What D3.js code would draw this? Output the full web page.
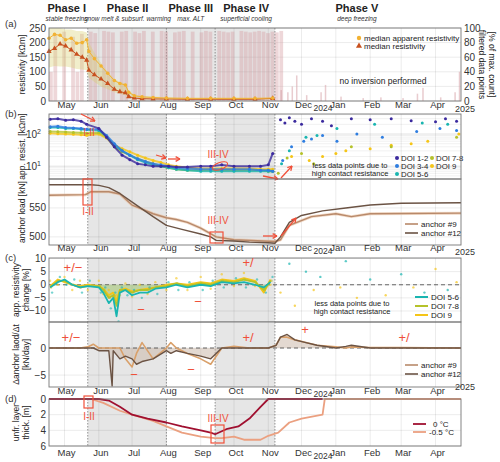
<!DOCTYPE html><html><head><meta charset="utf-8"><script src="https://cdn.jsdelivr.net/npm/d3@7"></script>
<style>body{margin:0;background:#fff}text{font-family:Arial,"Liberation Sans",sans-serif}</style></head><body><svg id="c" width="500" height="462"></svg><script>
// ---------- data ----------
const monthTicks=["2024-05-01","2024-06-01","2024-07-01","2024-08-01","2024-09-01","2024-10-01","2024-11-01","2024-12-01","2025-01-01","2025-02-01","2025-03-01","2025-04-01"];
const monthLabels=["May","Jun","Jul","Aug","Sep","Oct","Nov","Dec","Jan","Feb","Mar","Apr"];
const phaseBounds=["2024-05-22","2024-08-01","2024-09-14","2024-11-07"];
const phases=[["Phase I","stable freezing","2024-05-03"],["Phase II","snow melt & subsurf. warming","2024-06-27"],["Phase III","max. ALT","2024-08-23"],["Phase IV","superficial cooling","2024-10-12"],["Phase V","deep freezing","2025-01-20"]];
// panel a
const medAppDates=["2024-04-17","2024-04-22","2024-04-27","2024-05-02","2024-05-07","2024-05-12","2024-05-17","2024-05-21","2024-05-23","2024-05-28","2024-06-03","2024-06-09","2024-06-15","2024-06-20","2024-06-25","2024-06-28","2024-07-03","2024-07-10","2024-07-20","2024-08-01","2024-08-20","2024-09-10","2024-10-01","2024-10-20","2024-11-05"];
const medApp=[215,228,225,210,215,198,200,210,170,145,120,95,70,60,55,30,18,14,12,10,9,9,9,9,10];
const medRes=[170,180,195,188,175,160,150,140,105,90,75,60,40,32,28,15,10,8,7,7,6,6,6,6,9];
const envHi=[250,250,250,245,245,240,240,235,200,165,130,100,75,65,60,35,22,18,15,13,11,11,11,11,12];
const envLo=[115,120,118,118,115,110,108,105,80,65,50,40,30,25,20,12,7,5,4,4,3,3,3,3,5];
const barStart="2024-04-17";
const barVals=[40,92,0,95,0,88,40,92,0,95,93,0,96,95,94,0,95,96,0,95,93,96,0,95,0,96,95,0,94,95,96,0,95,0,94,96,95,0,96,95,94,95,0,96,95,94,95,96,95,93,95,94,96];
const lateBarDates=["2024-11-12","2024-11-18","2024-11-22","2024-11-26","2024-12-05","2024-12-18","2024-12-22","2025-01-05","2025-01-25","2025-02-10","2025-03-02","2025-03-15","2025-03-20","2025-04-05","2025-04-18","2025-04-22"];
const lateBarVals=[15,12,20,35,8,12,22,6,4,5,4,10,18,5,12,40];
// panel b (app resistivity, kΩm, log)
const bDates=["2024-04-18","2024-04-25","2024-05-02","2024-05-09","2024-05-16","2024-05-21","2024-06-01","2024-06-08","2024-06-15","2024-06-22","2024-06-29","2024-07-06","2024-07-13","2024-07-20","2024-07-27","2024-08-03","2024-08-10","2024-08-20","2024-09-01","2024-09-10","2024-09-20","2024-10-01","2024-10-15","2024-10-25","2024-11-01","2024-11-05"];
const doi12=[290,300,270,280,250,200,150,80,40,22,16,12,11,10,10,10,9.5,9.5,10,10,11,10,10,10,11,25];
const doi34=[170,175,160,155,150,140,140,90,50,30,22,17,14,12,11,10,9,8.5,8,8,8,8,8,7.5,7.5,7];
const doi56=[160,160,150,150,140,135,130,85,45,30,22,16,13,11,10,9,8,7.5,7,7,7,7,7,7,7,7];
const doi78=[120,118,115,112,110,105,110,80,40,28,22,17,14,12,10,9,8,7.5,7.5,7.5,7.5,7.5,7.5,7.5,7,7];
const doi9=[105,102,100,98,95,92,100,75,45,35,28,22,18,15,13,11,10,9,8.5,8.5,8.5,8.5,8.5,8,8,8];
const lateB={
 d12:[["2024-11-12",280],["2024-11-16",220],["2024-11-20",320],["2024-11-25",250],["2024-12-01",200],["2024-12-10",300],["2024-12-20",250],["2024-12-28",180],["2025-01-15",300],["2025-02-01",280],["2025-02-20",300],["2025-03-10",260],["2025-04-01",240],["2025-04-10",300],["2025-04-20",250]],
 d34:[["2024-11-14",15],["2024-11-22",40],["2024-12-03",60],["2024-12-10",70],["2024-12-20",90],["2025-01-02",60],["2025-01-20",100],["2025-02-12",80],["2025-03-15",120],["2025-04-05",150],["2025-04-20",130]],
 d56:[["2024-11-13",12],["2024-11-20",30],["2024-12-05",80],["2024-12-15",90],["2025-01-02",150],["2025-02-05",200],["2025-03-20",220],["2025-04-12",200]],
 d78:[["2024-11-10",6],["2024-11-18",18],["2024-12-01",25],["2024-12-12",12],["2025-01-15",40],["2025-02-20",40],["2025-04-20",80]],
 d9:[["2024-11-22",20],["2024-12-08",15],["2024-12-20",20],["2025-01-01",25],["2025-01-10",30],["2025-02-01",35],["2025-02-20",45],["2025-03-10",50],["2025-03-25",60],["2025-04-22",100]]};
// anchor load (kN)
const a12Dates=["2024-04-17","2024-05-25","2024-06-01","2024-06-10","2024-06-20","2024-07-05","2024-07-20","2024-08-01","2024-08-15","2024-09-01","2024-09-10","2024-09-15","2024-10-01","2024-10-15","2024-11-01","2024-11-07","2024-11-12","2024-11-20","2024-12-01","2024-12-20","2025-01-10","2025-02-01","2025-03-01","2025-04-24"];
const a12=[590,590,589,585,575,555,535,520,513,505,500,494,493,491,490,489,500,525,537,545,550,555,558,559];
const a9Dates=["2024-04-17","2024-05-20","2024-05-25","2024-06-10","2024-06-20","2024-07-01","2024-07-10","2024-07-20","2024-08-01","2024-08-10","2024-08-20","2024-09-01","2024-09-15","2024-10-01","2024-11-07","2024-11-12","2024-11-20","2024-12-10","2025-01-01","2025-01-15","2025-02-01","2025-04-24"];
const a9=[572,573,578,578,574,555,548,540,533,530,525,515,500,495,492,495,520,535,540,535,540,541];
// panel c (% change)
const cDates=["2024-04-18","2024-04-25","2024-05-01","2024-05-08","2024-05-15","2024-05-22","2024-06-01","2024-06-05","2024-06-10","2024-06-14","2024-06-17","2024-06-20","2024-06-25","2024-07-01","2024-07-08","2024-07-15","2024-07-22","2024-08-01","2024-08-10","2024-08-20","2024-09-01","2024-09-10","2024-09-20","2024-10-01","2024-10-10","2024-10-20","2024-10-28","2024-11-03"];
const c56=[-1,1,2,0,-1,-0.5,-1,-3,-7,-5,-12,-3,-2,-4,-3,-3,-1.5,-1,0,-1,0,-0.5,1,0.5,1,0,-1,1];
const c78=[-1,1.5,1.5,0,-1,-0.5,-0.5,-2,-5,-4,-8,-2,-2,-3,-2,-2,-1,-0.5,0.5,-0.5,0.5,0,1.5,1,2,1,-2,1.5];
const c9=[-0.5,2,1,0,-0.5,0,-0.5,-1.5,-4,-3,-6,-2,-1.5,-2.5,-2,-1.5,-1,0,0.5,0,1,0.5,2,1.5,2.5,1.5,-3,2];
const cLate=[["2024-11-12",-3],["2024-11-20",8],["2024-11-25",-8],["2024-12-05",5],["2024-12-12",-2],["2024-12-18",3],["2025-01-05",-1],["2025-01-10",9],["2025-01-20",-5],["2025-02-01",2],["2025-02-15",-4],["2025-03-01",4],["2025-03-12",-1],["2025-03-22",-3],["2025-04-01",6],["2025-04-12",-2],["2025-04-20",1]];
// Δ anchor load (kN/day)
const dDates=["2024-04-17","2024-05-15","2024-05-22","2024-05-27","2024-06-01","2024-06-10","2024-06-13","2024-06-14","2024-06-20","2024-06-25","2024-07-01","2024-07-05","2024-07-10","2024-07-20","2024-08-01","2024-08-05","2024-08-10","2024-08-20","2024-09-01","2024-09-10","2024-09-20","2024-10-01","2024-10-15","2024-11-01","2024-11-08","2024-11-12","2024-11-18","2024-11-25","2024-12-05","2024-12-15","2025-01-01","2025-01-10","2025-01-15","2025-02-01","2025-03-01","2025-04-24"];
const d12=[0,0,0,0,-0.5,-0.5,-7,-0.5,-2,-1.5,-2,-3,-2.5,-2,-0.5,-1,-0.5,-1,-1.5,-2,0,0,0,0,0.5,2,2.5,1.5,1,0.5,0,0.3,0.5,0,0,0];
const d9=[0,0,0.2,0.7,0,0,0,0,0,-2,-3.5,-1,1,-2,0,1,0,-1,-2,-3,0,0.3,0,0,0.5,2,2,1.5,1,0.5,0.2,0,0.2,0.1,0.1,0];
// panel d unfrozen layer thickness (m)
const uDates0=["2024-04-17","2024-06-01","2024-06-10","2024-06-20","2024-07-01","2024-07-15","2024-08-01","2024-08-15","2024-09-01","2024-09-10","2024-09-14","2024-09-25","2024-10-05","2024-10-15","2024-10-25","2024-11-01","2024-12-20"];
const u0=[0,0,0.2,1,2,2.5,3,3.5,4,4.3,4.5,3.8,3.5,2.5,1,0,0];
const uDates5=["2024-04-17","2024-05-25","2024-06-05","2024-06-20","2024-07-01","2024-07-20","2024-08-01","2024-08-15","2024-09-01","2024-09-14","2024-09-20","2024-10-01","2024-10-10","2024-10-25","2024-11-01","2024-11-10","2024-11-20","2024-12-01","2024-12-20","2024-12-22","2025-04-24"];
const u5=[0,0,0.5,1.5,2,2.8,3.5,4.3,4.8,5,5,4.8,5.2,5.2,4.7,4.3,3,2.5,2,0,0];

// ---------- drawing ----------
const P=d3.timeParse("%Y-%m-%d");
const svg=d3.select("#c");
const X0=49,X1=461;
const x=d3.scaleTime().domain([P("2024-04-17"),P("2025-04-24")]).range([X0,X1]);
function panel(top,bot,y,ticks,fmt,label,shadeAll){
  const g=svg.append("g");
  const b=phaseBounds.map(P);
  const sh=shadeAll?[[b[0],b[3]]]:[[b[0],b[1]],[b[2],b[3]]];
  sh.forEach(s=>g.append("rect").attr("x",x(s[0])).attr("y",top).attr("width",x(s[1])-x(s[0])).attr("height",bot-top).attr("fill","#e6e6e6"));
  monthTicks.forEach(t=>g.append("line").attr("x1",x(P(t))).attr("x2",x(P(t))).attr("y1",top).attr("y2",bot).attr("stroke","#000").attr("stroke-opacity",0.08));
  ticks.forEach(t=>{g.append("line").attr("x1",X0).attr("x2",X1).attr("y1",y(t)).attr("y2",y(t)).attr("stroke","#000").attr("stroke-opacity",0.08);
    g.append("text").attr("x",X0-3).attr("y",y(t)+3.5).attr("text-anchor","end").attr("font-size",10).attr("fill","#333").text(fmt(t));});
  b.forEach(d=>g.append("line").attr("x1",x(d)).attr("x2",x(d)).attr("y1",top).attr("y2",bot).attr("stroke","#777").attr("stroke-dasharray","1.5,1.5").attr("stroke-width",0.8));
  const lab=label.split("\n");
  const lx=lab.length>1?19:25;
  const t=g.append("text").attr("transform",`translate(${lx},${(top+bot)/2}) rotate(-90)`).attr("text-anchor","middle").attr("font-size",8.5).attr("fill","#222");
  lab.forEach((l,i)=>t.append("tspan").attr("x",0).attr("dy",i?10:0).text(l));
  return g;
}
function frame(top,bot){svg.append("rect").attr("x",X0).attr("y",top).attr("width",X1-X0).attr("height",bot-top).attr("fill","none").attr("stroke","#777").attr("stroke-width",0.9);}
function months(yy,yearMode){monthTicks.forEach((t,i)=>svg.append("text").attr("x",x(P(t))+2).attr("y",yy).attr("text-anchor","middle").attr("font-size",9.5).attr("fill","#333").text(monthLabels[i]));
  svg.append("text").attr("x",323).attr("y",yy+3).attr("text-anchor","middle").attr("font-size",8.5).attr("fill","#333").text("2024");
  if(yearMode!=="no")svg.append("text").attr("x",465).attr("y",yy+(yearMode==="hi"?-4:4)).attr("text-anchor","middle").attr("font-size",9).attr("fill","#333").text("2025");}
function line(g,dates,vals,y,col,w,extra){g.append("path").datum(dates.map((d,i)=>[P(d),vals[i]])).attr("d",d3.line().x(d=>x(d[0])).y(d=>y(d[1]))).attr("fill","none").attr("stroke",col).attr("stroke-width",w).attr("stroke-linejoin","round").attr("opacity",extra||1);}
function txt(xx,yy,s,o){const t=svg.append("text").attr("x",xx).attr("y",yy).text(s);o=o||{};t.attr("font-size",o.fs||9).attr("fill",o.c||"#222").attr("text-anchor",o.a||"start");if(o.i)t.attr("font-style","italic");if(o.b)t.attr("font-weight","bold");return t;}
const red="#f0503a";
function box(x0,y0,w,h){svg.append("rect").attr("x",x0).attr("y",y0).attr("width",w).attr("height",h).attr("fill","none").attr("stroke",red).attr("stroke-width",1.2);}
function arrow(x1,y1,x2,y2){svg.append("line").attr("x1",x1).attr("y1",y1).attr("x2",x2).attr("y2",y2).attr("stroke",red).attr("stroke-width",1.3);
  const a=Math.atan2(y2-y1,x2-x1),L=5;[0.5,-0.5].forEach(d=>svg.append("line").attr("x1",x2).attr("y1",y2).attr("x2",x2-L*Math.cos(a+d)).attr("y2",y2-L*Math.sin(a+d)).attr("stroke",red).attr("stroke-width",1.3));}

phases.forEach(p=>{txt(x(P(p[2])),12,p[0],{fs:11,b:1,a:"middle",c:"#222"});txt(x(P(p[2])),21,p[1],{fs:6.5,i:1,a:"middle",c:"#333"});});

// ---- panel a
{const top=28,bot=101;const y=d3.scaleLinear().domain([0,250]).range([bot,top]);const yr=d3.scaleLinear().domain([0,100]).range([bot,top]);
const g=panel(top,bot,y,[0,50,100,150,200,250],d3.format("d"),"resistivity [kΩm]",true);
txt(5,27,"(a)",{fs:9.5,c:"#333"});
const w4=x(P("2024-04-21"))-x(P("2024-04-17"));
barVals.forEach((v,i)=>{const d=d3.timeDay.offset(P(barStart),i*4);g.append("rect").attr("x",x(d)).attr("y",yr(v)).attr("width",w4*0.85).attr("height",bot-yr(v)).attr("fill","#d49aa0").attr("opacity",0.4);});
lateBarDates.forEach((d,i)=>g.append("rect").attr("x",x(P(d))).attr("y",yr(lateBarVals[i])).attr("width",1.5).attr("height",bot-yr(lateBarVals[i])).attr("fill","#d49aa0").attr("opacity",0.5));
g.append("path").datum(medAppDates.map((d,i)=>[P(d),envLo[i],envHi[i]])).attr("d",d3.area().x(d=>x(d[0])).y0(d=>y(d[1])).y1(d=>y(d[2]))).attr("fill","#d8cf6a").attr("opacity",0.35);
line(g,medAppDates,medRes,y,"#c8501e",1);line(g,medAppDates,medApp,y,"#f2b233",1);
medAppDates.forEach((d,i)=>{g.append("path").attr("d",d3.symbol(d3.symbolTriangle,12)()).attr("transform",`translate(${x(P(d))},${y(medRes[i])})`).attr("fill","#c8501e");
 g.append("circle").attr("cx",x(P(d))).attr("cy",y(medApp[i])).attr("r",1.8).attr("fill","#f2b233");});
[0,20,40,60,80,100].forEach(t=>txt(X1+3,yr(t)+3.5,t,{fs:10,c:"#333"}));
const rt=svg.append("text").attr("transform",`translate(479,${(top+bot)/2}) rotate(90)`).attr("text-anchor","middle").attr("font-size",8.5).attr("fill","#222");
rt.append("tspan").attr("x",0).text("filtered data points");rt.append("tspan").attr("x",0).attr("dy",-10).text("[% of max. count]");
frame(top,bot);
svg.append("circle").attr("cx",359).attr("cy",38).attr("r",2.2).attr("fill","#f2b233");txt(364,41,"median apparent resistivity",{fs:8});
svg.append("path").attr("d",d3.symbol(d3.symbolTriangle,16)()).attr("transform","translate(359,46)").attr("fill","#c8501e");txt(364,49,"median resistivity",{fs:8});
txt(383,84,"no inversion performed",{fs:8.5,a:"middle"});
months(108);}

// ---- panel b
{const top=114,bot=179;const y=d3.scaleLog().domain([4,420]).range([bot,top]);
const g=panel(top,bot,y,[],d=>d,"app. resist. [kΩm]",false);
[5,6,7,8,9,20,30,40,50,60,70,80,90,200,300,400].forEach(t=>g.append("line").attr("x1",X0).attr("x2",X1).attr("y1",y(t)).attr("y2",y(t)).attr("stroke","#000").attr("stroke-opacity",0.06));
[10,100].forEach((t,i)=>{g.append("line").attr("x1",X0).attr("x2",X1).attr("y1",y(t)).attr("y2",y(t)).attr("stroke","#000").attr("stroke-opacity",0.12);
 const tt=txt(X0-8,y(t)+4,"10",{fs:10,a:"end",c:"#333"});tt.append("tspan").attr("dy",-4).attr("font-size",7).text(i+1);});
txt(5,117,"(b)",{fs:9.5,c:"#333"});
const ser=[[doi9,"#f5c518","d9"],[doi78,"#b5c22a","d78"],[doi56,"#19b5b0","d56"],[doi34,"#2e7de0","d34"],[doi12,"#3b2a9e","d12"]];
ser.forEach(s=>{line(g,bDates,s[0],y,s[1],2,0.8);bDates.forEach((d,i)=>g.append("circle").attr("cx",x(P(d))).attr("cy",y(s[0][i])).attr("r",1.5).attr("fill",s[1]));
 lateB[s[2]].forEach(p=>g.append("circle").attr("cx",x(P(p[0]))).attr("cy",y(p[1])).attr("r",1.5).attr("fill",s[1]));});
const leg=[["DOI 1-2","#3b2a9e",397,161],["DOI 3-4","#2e7de0",397,169],["DOI 5-6","#19b5b0",397,177],["DOI 7-8","#b5c22a",432,161],["DOI 9","#f5c518",432,169]];
leg.forEach(l=>{svg.append("circle").attr("cx",l[2]).attr("cy",l[3]-3).attr("r",2).attr("fill",l[1]);txt(l[2]+4,l[3],l[0],{fs:7.8});});
txt(350,168,"less data points due to",{fs:7.5,a:"middle"});txt(350,176,"high contact resistance",{fs:7.5,a:"middle"});
frame(top,bot);
arrow(81,114,95,121);txt(89,136,"I-II",{fs:10,c:red,a:"middle"});arrow(156,155,166,158);arrow(168,159,180,159);
txt(218,158,"III-IV",{fs:10,c:red,a:"middle"});svg.append("ellipse").attr("cx",220).attr("cy",166).attr("rx",8).attr("ry",3.5).attr("fill","none").attr("stroke",red).attr("stroke-width",1).attr("transform","rotate(-20,220,166)");
arrow(263,176,278,179);arrow(281,178,292,166);}

// ---- anchor load
{const top=179,bot=245;const y=d3.scaleLinear().domain([486,600]).range([bot,top]);
const g=panel(top,bot,y,[500,550],d3.format("d"),"anchor load [kN]",false);
line(g,a9Dates,a9,y,"#e8c0a0",3,0.6);line(g,a9Dates,a9,y,"#b8896a",1.4);line(g,a12Dates,a12,y,"#6b5344",1.4);
frame(top,bot);
svg.append("line").attr("x1",405).attr("x2",418).attr("y1",224).attr("y2",224).attr("stroke","#b8896a").attr("stroke-width",1.6);txt(421,227,"anchor #9",{fs:8});
svg.append("line").attr("x1",405).attr("x2",418).attr("y1",233).attr("y2",233).attr("stroke","#6b5344").attr("stroke-width",1.6);txt(421,236,"anchor #12",{fs:8});
box(83,179,9,26);txt(88,215,"I-II",{fs:10,c:red,a:"middle"});box(210,232,13,11);txt(218,224,"III-IV",{fs:10,c:red,a:"middle"});
arrow(263,236,277,236);arrow(281,236,296,218);
months(251);}

// ---- panel c
{const top=258,bot=322;const y=d3.scaleLinear().domain([-14.2,10.2]).range([bot,top]);
const g=panel(top,bot,y,[-10,-5,0,5,10],d3.format("d"),"app. resistivity\nchange [%]",false);
txt(5,261,"(c)",{fs:9.5,c:"#333"});
g.append("line").attr("x1",X0).attr("x2",X1).attr("y1",y(0)).attr("y2",y(0)).attr("stroke","#444").attr("stroke-dasharray","4,3").attr("stroke-width",0.8);
g.append("path").datum(cDates.map((d,i)=>[P(d),c78[i]])).attr("d",d3.area().x(d=>x(d[0])).y0(y(0)).y1(d=>y(Math.min(0,d[1])))).attr("fill","#9cc36a").attr("opacity",0.55);
[[c9,"#f5c518"],[c78,"#b5c22a"],[c56,"#19b5b0"]].forEach((s,k)=>{line(g,cDates,s[0],y,s[1],1.8);cDates.forEach((d,i)=>g.append("circle").attr("cx",x(P(d))+k).attr("cy",y(s[0][i]+(i%2?2:-2)*(k-1))).attr("r",1.2).attr("fill",s[1]).attr("opacity",0.6));});
cLate.forEach((p,i)=>g.append("circle").attr("cx",x(P(p[0]))).attr("cy",y(p[1])).attr("r",1.2).attr("fill",i%2?"#19b5b0":"#f5c518").attr("opacity",0.7));
frame(top,bot);
[["DOI 5-6","#19b5b0",300],["DOI 7-8","#b5c22a",309],["DOI 9","#f5c518",318]].forEach(l=>{svg.append("line").attr("x1",415).attr("x2",428).attr("y1",l[2]-3).attr("y2",l[2]-3).attr("stroke",l[1]).attr("stroke-width",2);txt(431,l[2],l[0],{fs:8});});
txt(352,306,"less data points due to",{fs:7.5,a:"middle"});txt(352,314,"high contact resistance",{fs:7.5,a:"middle"});
txt(73,272,"+/−",{fs:13,c:red,a:"middle"});txt(248,267,"+/",{fs:13,c:red,a:"middle"});txt(141,314,"−",{fs:13,c:red,a:"middle"});txt(198,306,"−",{fs:13,c:red,a:"middle"});}

// ---- Δ anchor
{const top=322,bot=387;const y=d3.scaleLinear().domain([-7.2,4.8]).range([bot,top]);
const g=panel(top,bot,y,[-5,0],d3.format("d"),"Δanchor laod/Δt\n[kN/day]",false);
g.append("path").datum(dDates.map((d,i)=>[P(d),d12[i]])).attr("d",d3.area().x(d=>x(d[0])).y0(y(0)).y1(d=>y(d[1]))).attr("fill","#c8b4a4").attr("opacity",0.5);
g.append("line").attr("x1",X0).attr("x2",X1).attr("y1",y(0)).attr("y2",y(0)).attr("stroke","#444").attr("stroke-dasharray","4,3").attr("stroke-width",0.8);
line(g,dDates,d9,y,"#d9a06a",1.6);line(g,dDates,d12,y,"#6b5344",1.4);
frame(top,bot);
svg.append("line").attr("x1",405).attr("x2",418).attr("y1",365).attr("y2",365).attr("stroke","#b8896a").attr("stroke-width",1.6);txt(421,368,"anchor #9",{fs:8});
svg.append("line").attr("x1",405).attr("x2",418).attr("y1",374).attr("y2",374).attr("stroke","#6b5344").attr("stroke-width",1.6);txt(421,377,"anchor #12",{fs:8});
txt(71,342,"+/−",{fs:13,c:red,a:"middle"});txt(248,342,"+/",{fs:13,c:red,a:"middle"});txt(404,342,"+/",{fs:13,c:red,a:"middle"});
txt(305,334,"+",{fs:13,c:red,a:"middle"});txt(134,379,"−",{fs:13,c:red,a:"middle"});txt(191,374,"−",{fs:13,c:red,a:"middle"});
months(394,"hi");}

// ---- panel d
{const top=399,bot=446;const y=d3.scaleLinear().domain([0,6]).range([top,bot]);
const g=panel(top,bot,y,[0,2,4,6],d3.format("d"),"unfr. layer\nthick. [m]",false);
txt(5,402,"(d)",{fs:9.5,c:"#333"});
line(g,uDates5,u5,y,"#eba080",1.8);line(g,uDates0,u0,y,"#a01030",1.8);
frame(top,bot);
svg.append("line").attr("x1",413).attr("x2",426).attr("y1",424).attr("y2",424).attr("stroke","#a01030").attr("stroke-width",1.8);txt(433,427,"0 °C",{fs:8});
svg.append("line").attr("x1",413).attr("x2",426).attr("y1",432).attr("y2",432).attr("stroke","#eba080").attr("stroke-width",1.8);txt(429,435,"-0.5 °C",{fs:8});
box(84,396,9,12);txt(89,420,"I-II",{fs:10,c:red,a:"middle"});box(211,425,13,18);txt(218,422,"III-IV",{fs:10,c:red,a:"middle"});
months(456,"no");}
</script></body></html>
